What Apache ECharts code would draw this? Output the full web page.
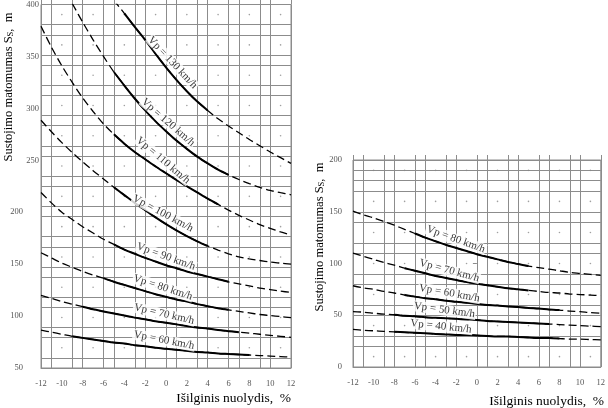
<!DOCTYPE html>
<html><head><meta charset="utf-8">
<script src="https://cdn.jsdelivr.net/npm/echarts@6/dist/echarts.min.js"></script>
<style>html,body{margin:0;padding:0;background:#fff}#c{width:608px;height:408px}</style>
</head><body><div id="c"></div>
<script>
// ---------- data ----------
const grades = [-12,-11,-10,-9,-8,-7,-6,-5,-4,-3,-2,-1,0,1,2,3,4,5,6,7,8,9,10,11,12];
const xTicks = [-12,-10,-8,-6,-4,-2,0,2,4,6,8,10,12];
const leftYTicks = [50,100,150,200,250,300,350,400];
const rightYTicks = [0,50,100,150,200];

// left chart: stopping sight distance (m) vs grade (%), per design speed
const leftV60  = [86.5,84.5,82.5,80.5,79,77.5,76,74.5,73.5,72,71,69.5,68.5,67.5,66.5,65.5,65,64,63.5,63,62.5,62,61.5,61,60.5];
const leftV70  = [120,117,114,111.5,109,106.5,104.5,102.5,100.5,98.5,97,95,93.5,92,90.5,89,88,86.5,85.5,84.5,83.5,82.5,81.5,80.5,79.5];
const leftV80  = [161,156,151,147,143,139.5,136.5,133,130,127,124,121,118.5,116,114,111.5,109.5,107.5,106,104.5,103,101.5,100.5,99.5,98.5];
const leftV90  = [219,209,200,193,186,180,174,169,164,160,156,152.5,149,146,143,140.5,138,135.5,133,131,129,127,125.5,124,122.7];
const leftV100 = [288.5,277.5,267,257.5,248.5,240,232,224,216.5,209,202,195,188.5,182.5,177,172,167.5,163.5,160,157,155,153.5,152,151,150];
const leftV110 = [379,359,341,325,310,297,285,275,266,258,251,244,237.5,231,225,219,213,207.5,202,197,192.5,188,184.5,181,178];
const leftV120 = [null,null,null,401,383,366,350,335,322,309.5,298,287.5,278,269,261,253.5,247,241,236,231.5,227.5,224,221,218.8,216.8];
const leftV130 = [null,null,null,null,null,null,null,404,391.5,378.5,366,352.5,339.5,327.5,316.5,306.5,298,290,283,276.5,270,264,258,252.5,247];
const leftSpeeds = [60,70,80,90,100,110,120,130];
const leftSolidFrom = [-9,-8,-6,-5,-5,-5,-5,-4];
const leftSolidTo   = [8,7,6,6,4,5,6,4];

// right chart
const rightV40 = [36.3,35.5,35,34.5,34,33.5,33,32.5,32,31.5,31,31,30.5,30,29.5,29.5,29,28.5,28,28,27.5,27,27,26.5,26.3];
const rightV50 = [53.5,53,52,51,50.5,49.5,49,48,47.5,47,46.5,46,45.5,44.5,44,43.5,43,42.5,42,41.5,41,40.5,40,39.5,39];
const rightV60 = [78.5,76.5,75,73,71.5,69.5,68,66.5,65.5,64,63,62,61,60,59.5,58.5,58,57,56.5,55.5,55,54,53.5,52.5,52];
const rightV70 = [110,107,104,101,98.5,95.5,93,90.5,88,86,84,82,80.5,79,77.5,76,75,74,73,72,71.5,70.5,70,69.5,69];
const rightV80 = [150.5,147,144,140.5,137,133,129,125,121.5,118,115,112,109,106.5,104,101.5,99.5,97.5,96,94.5,93,91.5,90.5,89.5,88.5];
const rightSpeeds = [40,50,60,70,80];
const rightSolidFrom = [-8,-8,-7,-7,-6];
const rightSolidTo   = [8,7,8,5,5];

// ---------- styling / helpers ----------
const SERIF = 'Liberation Serif';
const GRID = '#8c8c8c';
const leftVals = [leftV60,leftV70,leftV80,leftV90,leftV100,leftV110,leftV120,leftV130];
const rightVals = [rightV40,rightV50,rightV60,rightV70,rightV80];

// label placement: [anchor grade on curve, shift along text (px), text angle (deg, clockwise)]
const leftLabelCfg  = [[0,-3.6,11],[0,-3.9,13],[0,-5.8,18],[0,-2.9,20],[0,-7.7,28],[0,-10.6,40],[0,-4.2,41],[0,1,47]];
const rightLabelCfg = [[-4,4.6,6],[-3,-2.7,8],[-3,2,10],[-3,1.3,15],[-2,-3.3,20]];
const LABEL_GAP = 8;

function curveSeries(speed, vals, from, to, xi, yi, cfg) {
  const pts = [];
  grades.forEach((g,i)=>{ if (vals[i]!=null) pts.push([g, vals[i]]); });
  const solid = pts.filter(p=>p[0]>=from && p[0]<=to);
  const anchor = pts.find(p=>p[0]===cfg[0]);
  return [
    {type:'line', xAxisIndex:xi, yAxisIndex:yi, data:pts, smooth:0.3, symbol:'none', silent:true,
     lineStyle:{color:'#000', width:1.3, type:[8,4]}, z:3},
    {type:'line', xAxisIndex:xi, yAxisIndex:yi, data:solid, smooth:0.3, symbol:'none', silent:true,
     lineStyle:{color:'#000', width:2}, z:4},
    {type:'scatter', xAxisIndex:xi, yAxisIndex:yi, symbolSize:0, silent:true, z:6,
     data:[anchor],
     label:{show:true, position:'inside', offset:[cfg[1], -LABEL_GAP], formatter:'Vp = '+speed+' km/h', rotate:-cfg[2],
       fontFamily:SERIF, fontSize:11, color:'#000', backgroundColor:'#fff', padding:[0,1]}}
  ];
}

function dotSeries(nx, ny, ymod, xi, yi) {
  const d = [];
  for (let i=0;i<nx;i++) for (let j=0;j<ny;j++) if (i%3===2 && j%3===ymod) d.push([i,j]);
  return {type:'scatter', xAxisIndex:xi, yAxisIndex:yi, data:d, symbolSize:1.6, silent:true,
    itemStyle:{color:'#888'}, z:2};
}

const idx = n => Array.from({length:n},(_,i)=>i);

function valueX(gi) {
  return {gridIndex:gi, type:'value', min:-12, max:12, interval:2,
    axisLine:{show:true, lineStyle:{color:GRID}}, axisTick:{show:false}, splitLine:{show:false},
    axisLabel:{fontFamily:SERIF, fontSize:8.5, color:'#555', margin:11, formatter:v=>xTicks.includes(v)?String(v):''}};
}
function catX(gi) {
  return {gridIndex:gi, type:'category', data:idx(25), boundaryGap:false,
    axisLine:{show:false}, axisLabel:{show:false},
    axisTick:{show:true, length:5, interval:i=>i%3!==2, lineStyle:{color:GRID}},
    splitLine:{show:true, interval:i=>i%3!==2, lineStyle:{color:GRID, width:1}}};
}
function catY(gi, n, keep) {
  return {gridIndex:gi, type:'category', data:idx(n), boundaryGap:false,
    axisLine:{show:false}, axisLabel:{show:false},
    axisTick:{show:false},
    splitLine:{show:true, interval:keep, lineStyle:{color:GRID, width:1}}};
}

const series = [];
leftSpeeds.forEach((s,k)=> series.push(...curveSeries(s, leftVals[k], leftSolidFrom[k], leftSolidTo[k], 0, 0, leftLabelCfg[k])));
rightSpeeds.forEach((s,k)=> series.push(...curveSeries(s, rightVals[k], rightSolidFrom[k], rightSolidTo[k], 2, 2, rightLabelCfg[k])));
series.push(dotSeries(25, 37, 2, 1, 1));
series.push(dotSeries(25, 21, 1, 3, 3));

const yTitle = {text:'{a|Sustojimo matomumas S}{s|S}{a|,  m}',
  rich:{a:{fontFamily:SERIF, fontSize:12.5, fill:'#000'}, s:{fontFamily:SERIF, fontSize:8.5, fill:'#000', verticalAlign:'bottom'}},
  align:'center', verticalAlign:'middle'};

const chart = echarts.init(document.getElementById('c'), null, {renderer:'canvas'});
chart.setOption({
  animation:false,
  backgroundColor:'#fff',
  grid:[
    {left:41, top:2, width:250, height:366, show:true, borderColor:GRID, borderWidth:1},
    {left:353, top:160, width:251, height:207, show:true, borderColor:GRID, borderWidth:1}
  ],
  xAxis:[valueX(0), catX(0), valueX(1), catX(1)],
  yAxis:[
    {gridIndex:0, type:'value', min:50, max:400, interval:50,
     axisLine:{show:true, lineStyle:{color:GRID}}, axisTick:{show:false}, splitLine:{show:false},
     axisLabel:{fontFamily:SERIF, fontSize:8.5, color:'#555', margin:2,
       formatter:v=>leftYTicks.includes(v) ? (v>=250 ? '{a|'+v+'}' : '{b|'+v+'}') : '',
       rich:{a:{fontFamily:SERIF, fontSize:8.5, color:'#555'}, b:{fontFamily:SERIF, fontSize:8.5, color:'#555', padding:[0,16,0,0]}}}},
    catY(0, 37, i=>i%3!==2),
    {gridIndex:1, type:'value', min:0, max:200, interval:50,
     axisLine:{show:true, lineStyle:{color:GRID}}, axisTick:{show:true, length:4, lineStyle:{color:GRID}}, splitLine:{show:false},
     axisLabel:{fontFamily:SERIF, fontSize:8.5, color:'#555', margin:11,
       formatter:v=>rightYTicks.includes(v)?String(v):''}},
    catY(1, 21, i=>i%3!==1 || i===19)
  ],
  graphic:[
    {type:'text', x:9, y:87, rotation:Math.PI/2, style:yTitle},
    {type:'text', x:320, y:237, rotation:Math.PI/2, style:yTitle},
    {type:'text', x:291, y:398, style:{text:'Išilginis nuolydis,  %', fontFamily:SERIF, fontSize:13.5, fill:'#000', align:'right', verticalAlign:'middle'}},
    {type:'text', x:604, y:401, style:{text:'Išilginis nuolydis,  %', fontFamily:SERIF, fontSize:13.5, fill:'#000', align:'right', verticalAlign:'middle'}}
  ],
  series
});
</script></body></html>
